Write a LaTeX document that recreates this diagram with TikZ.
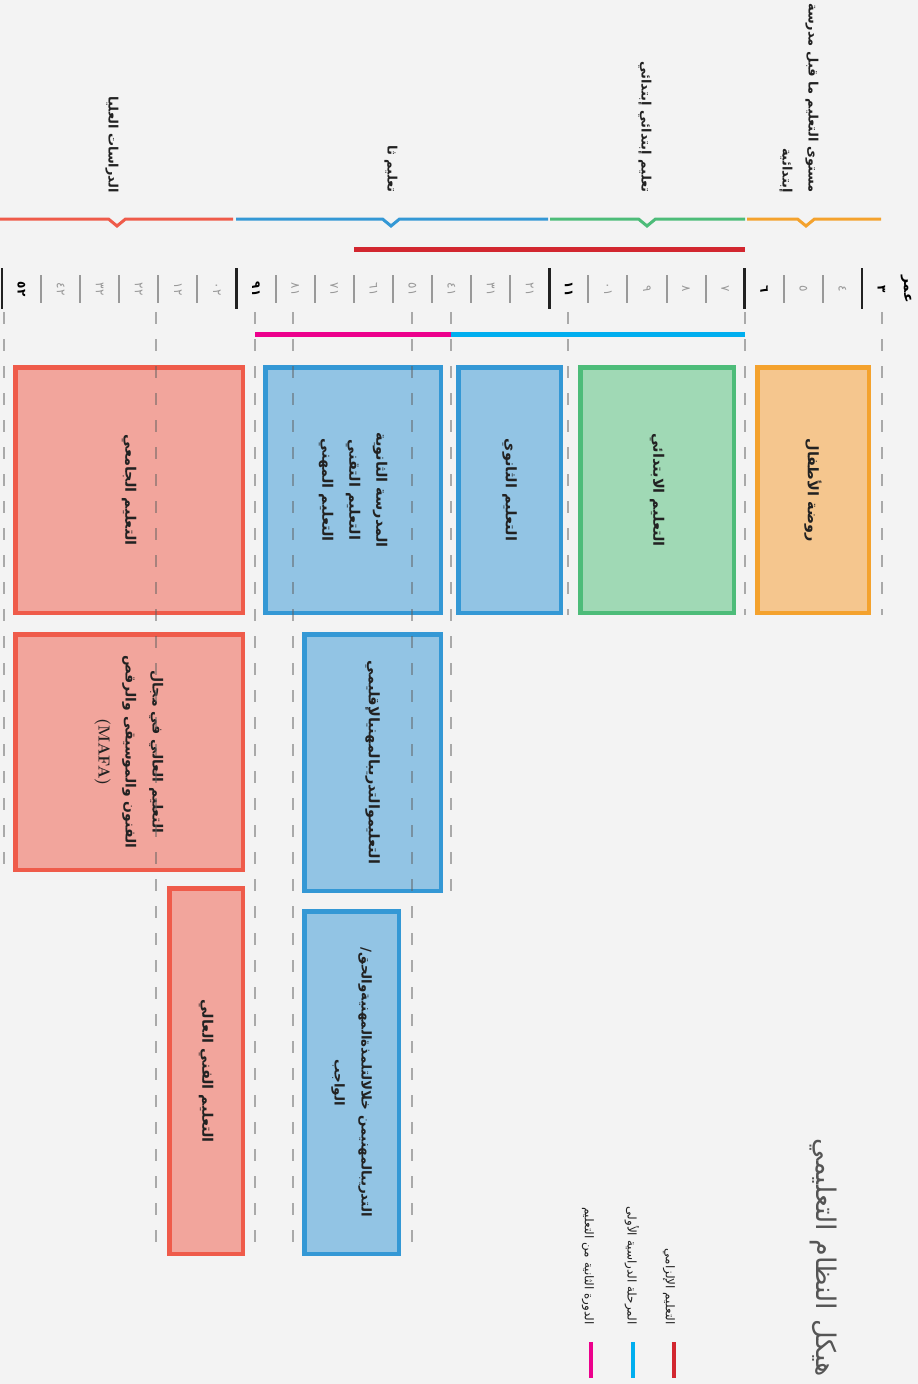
\documentclass[tikz,border=0pt]{standalone}
\usepackage{fontspec}
\newfontfamily\arabicfont[Script=Arabic]{DejaVu Sans}
\TeXXeTstate=1
\newcommand\AR[1]{\beginR #1\endR}
\definecolor{bg}{HTML}{F3F3F3}
\definecolor{orS}{HTML}{F4A22D}\definecolor{orF}{HTML}{F5C68E}
\definecolor{grS}{HTML}{4DBC79}\definecolor{grF}{HTML}{A0D9B5}
\definecolor{blS}{HTML}{3498D5}\definecolor{blF}{HTML}{92C4E4}
\definecolor{rdS}{HTML}{EF5B4A}\definecolor{rdF}{HTML}{F2A59C}
\definecolor{compR}{HTML}{D2262F}\definecolor{cyanB}{HTML}{00AEEF}\definecolor{pinkB}{HTML}{EC008C}
\definecolor{tickG}{HTML}{999999}\definecolor{gridG}{HTML}{606060}
\definecolor{titleG}{HTML}{555555}\definecolor{txt}{HTML}{222222}
\tikzset{
  box/.style={draw, line width=4.5pt, rotate=-90, inner sep=0pt, align=center, text=txt,
    font=\arabicfont\bfseries\fontsize{14.5}{27}\selectfont},
  hdr/.style={rotate=-90, anchor=east, inner sep=0pt, text=txt, font=\arabicfont\bfseries\fontsize{13}{26}\selectfont},
  hline/.style={line width=3pt},
  grid/.style={draw=gridG, opacity=0.5, line width=1.4pt, dash pattern=on 12pt off 15pt},
  agebold/.style={rotate=-90, inner sep=0pt, text=black, font=\arabicfont\bfseries\fontsize{12}{14}\selectfont},
  agegray/.style={rotate=-90, inner sep=0pt, text=tickG, font=\arabicfont\fontsize{12}{14}\selectfont},
  legtext/.style={rotate=-90, anchor=east, inner sep=0pt, text=txt, font=\arabicfont\fontsize{12}{14}\selectfont},
  legbar/.style={line width=4pt},
}
\begin{document}
\begin{tikzpicture}[x=1pt,y=-1pt]
\useasboundingbox (0,0) rectangle (918,1384);
\fill[bg] (0,0) rectangle (918,1384);

% header level lines with chevrons
\draw[hline, orS] (747,219) -- (797.5,219) -- (806,226) -- (814.5,219) -- (881,219);
\draw[hline, grS] (550,219) -- (638.5,219) -- (647,226) -- (655.5,219) -- (745,219);
\draw[hline, blS] (236,219) -- (382.5,219) -- (391,226) -- (399.5,219) -- (548,219);
\draw[hline, rdS] (0,219) -- (108.5,219) -- (117,226) -- (125.5,219) -- (233,219);

% header labels
\node[hdr, align=right] (hOr) at (799,193) {\AR{مستوى التعليم ما قبل مدرسة}\\\AR{إبتدائية}};
\node[hdr] (hGr) at (645,193) {\AR{تعليم إبتدائي إبتدائي}};
\node[hdr] (hBl) at (391,193) {\AR{تعليم ثا}};
\node[hdr] (hRd) at (112,193) {\AR{الدراسات العليا}};

% compulsory bar
\draw[line width=5pt, compR] (354,249.5) -- (745,249.5);

% age axis
\node[rotate=-90, inner sep=0pt, font=\arabicfont\bfseries\fontsize{14}{16}\selectfont] (ageLbl) at (906,289) {\AR{عمر}};
\foreach \n/\t/\s in {3/٣/agebold,4/٤/agegray,5/٥/agegray,6/٦/agebold,7/٧/agegray,8/٨/agegray,9/٩/agegray,
  10/٠١/agegray,11/١١/agebold,12/٢١/agegray,13/٣١/agegray,14/٤١/agegray,15/٥١/agegray,16/٦١/agegray,
  17/٧١/agegray,18/٨١/agegray,19/٩١/agebold,20/٠٢/agegray,21/١٢/agegray,22/٢٢/agegray,23/٣٢/agegray,
  24/٤٢/agegray,25/٥٢/agebold}{
  \pgfmathsetmacro\xt{862-39.09*(\n-3)}
  \node[\s] (age\n) at (\xt+19.5,289) {\t};
}
\foreach \n in {4,5,7,8,9,10,12,13,14,15,16,17,18,20,21,22,23,24}{
  \pgfmathsetmacro\xt{862-39.09*(\n-3)}
  \draw[tickG, line width=2pt] (\xt,275) -- (\xt,303);
}
\foreach \n in {3,6,11,19,25}{
  \pgfmathsetmacro\xt{862-39.09*(\n-3)}
  \draw[black!87, line width=2.6pt] (\xt,268) -- (\xt,309);
}

% cycle bars
\draw[line width=5pt, cyanB] (451,334.5) -- (745,334.5);
\draw[line width=5pt, pinkB] (255,334.5) -- (451,334.5);

% boxes
\node[box, fill=orF, draw=orS, minimum width=245.5pt, minimum height=111.5pt] (kg) at (813,490) {\AR{روضة الأطفال}};
\node[box, fill=grF, draw=grS, minimum width=245.5pt, minimum height=153.5pt] (prim) at (657,490) {\AR{التعليم الابتدائي}};
\node[box, fill=blF, draw=blS, minimum width=245.5pt, minimum height=102.5pt] (sec) at (509.5,490) {\AR{التعليم الثانوي}};
\node[box, fill=blF, draw=blS, minimum width=245.5pt, minimum height=175.5pt] (upsec) at (353,490) {\AR{المدرسة الثانوية}\\\AR{التعليم التقني}\\\AR{التعليم المهني}};
\node[box, fill=rdF, draw=rdS, minimum width=245.5pt, minimum height=227.5pt] (univ) at (129,490) {\AR{التعليم الجامعي}};
\node[box, fill=blF, draw=blS, minimum width=256.5pt, minimum height=136.5pt] (regvoc) at (372.5,762.5) {\AR{التعليموالتدريبالمهنيالإقليمي}};
\node[box, fill=rdF, draw=rdS, minimum width=235.5pt, minimum height=227.5pt, font=\arabicfont\bfseries\fontsize{14}{27}\selectfont] (mafa) at (129,752) {\AR{التعليم العالي في مجال}\\\AR{الفنون والموسيقى والرقص}\\{\rmfamily\bfseries\fontsize{16}{27}\selectfont (MAFA)}};
\node[box, fill=rdF, draw=rdS, minimum width=365.5pt, minimum height=73.5pt] (hta) at (206,1071) {\AR{التعليم الفني العالي}};
\node[box, fill=blF, draw=blS, minimum width=342.5pt, minimum height=94.5pt, font=\arabicfont\bfseries\fontsize{13.5}{27}\selectfont] (appr) at (351.5,1082.5) {\AR{التدريبالمهنيمن خلالالتلمذةالمهنيةوالحق/}\\\AR{الواجب}};

% grid lines
\draw[grid] (4,312) -- (4,872);
\draw[grid] (156,312) -- (156,1256);
\draw[grid] (255,312) -- (255,1256);
\draw[grid] (293,312) -- (293,1256);
\draw[grid] (412,312) -- (412,1256);
\draw[grid] (451,312) -- (451,893);
\draw[grid] (568,312) -- (568,615);
\draw[grid] (745,312) -- (745,615);
\draw[grid] (882,312) -- (882,615);

% title
\node[rotate=-90, anchor=east, inner sep=0pt, text=titleG, font=\arabicfont\fontsize{27}{30}\selectfont] (title) at (823,1377) {\AR{هيكل النظام التعليمي}};

% legend
\draw[legbar, compR] (673.5,1342) -- (673.5,1378);
\draw[legbar, cyanB] (632.5,1342) -- (632.5,1378);
\draw[legbar, pinkB] (591,1342) -- (591,1378);
\node[legtext] (lg1) at (669,1325) {\AR{التعليم الإلزامي}};
\node[legtext] (lg2) at (632,1325) {\AR{المرحلة الدراسية الأولى}};
\node[legtext] (lg3) at (588,1325) {\AR{الدورة الثانية من التعليم}};
\end{tikzpicture}
\end{document}
